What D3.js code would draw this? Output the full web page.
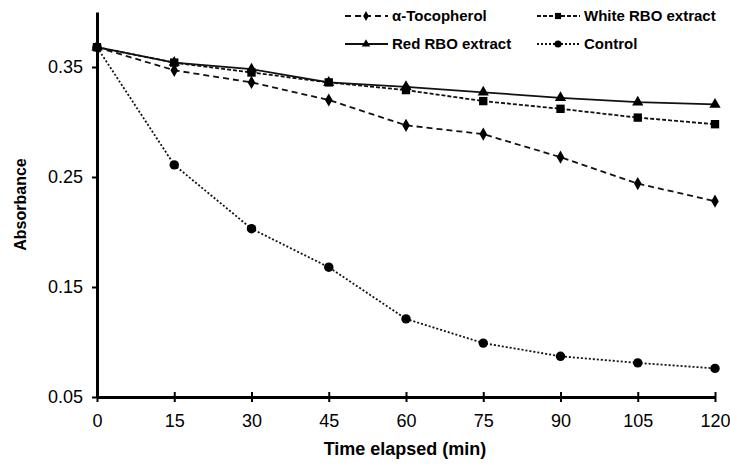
<!DOCTYPE html>
<html>
<head>
<meta charset="utf-8">
<script src="https://cdn.jsdelivr.net/npm/d3@7"></script>
<style>
  body { margin: 0; background: #fff; }
  text { font-family: "Liberation Sans", Arial, sans-serif; fill: #000; }
</style>
</head>
<body>
<svg id="chart" width="730" height="467"></svg>
<script>
const times = [0, 15, 30, 45, 60, 75, 90, 105, 120]
const tocopherol = [0.368, 0.347, 0.336, 0.320, 0.297, 0.289, 0.268, 0.244, 0.228]
const whiteRBO = [0.368, 0.354, 0.345, 0.336, 0.329, 0.319, 0.312, 0.304, 0.298]
const redRBO = [0.368, 0.354, 0.348, 0.336, 0.332, 0.327, 0.322, 0.318, 0.316]
const control = [0.368, 0.261, 0.203, 0.168, 0.121, 0.099, 0.087, 0.081, 0.076]
const yTicks = [0.05, 0.15, 0.25, 0.35]

const series = [
  { name: "α-Tocopherol", values: tocopherol, dash: "6,4", symbol: d3.symbolDiamond, size: 50 },
  { name: "White RBO extract", values: whiteRBO, dash: "4,2", symbol: d3.symbolSquare, size: 70 },
  { name: "Red RBO extract", values: redRBO, dash: null, symbol: d3.symbolTriangle, size: 55 },
  { name: "Control", values: control, dash: "2,2", symbol: d3.symbolCircle, size: 70 }
]

const svg = d3.select("#chart")
const margin = { left: 97, right: 15, top: 12, bottom: 70 }
const width = 730, height = 467

const x = d3.scaleLinear().domain([0, 120]).range([margin.left, width - margin.right])
const y = d3.scaleLinear().domain([0.05, 0.40]).range([height - margin.bottom, margin.top])

// axes
const xAxis = svg.append("g")
  .attr("transform", `translate(0,${y(0.05)})`)
  .call(d3.axisBottom(x).tickValues(times).tickSize(5).tickSizeOuter(0).tickPadding(12))
xAxis.select(".domain").attr("stroke-width", 3)
xAxis.selectAll(".tick line").attr("stroke-width", 2).attr("y1", -5)
xAxis.selectAll("text").style("font-size", "18px").attr("fill", "#222")

const yAxis = svg.append("g")
  .attr("transform", `translate(${x(0)},0)`)
  .call(d3.axisLeft(y).tickValues(yTicks).tickFormat(d3.format(".2f")).tickSize(5).tickSizeOuter(0).tickPadding(9))
yAxis.select(".domain").attr("stroke-width", 3)
yAxis.selectAll(".tick line").attr("stroke-width", 2)
yAxis.selectAll("text").style("font-size", "18px").attr("fill", "#222")

svg.append("text")
  .attr("x", 405).attr("y", 455)
  .attr("text-anchor", "middle")
  .style("font-size", "18px").style("font-weight", "bold")
  .text("Time elapsed (min)")

svg.append("text")
  .attr("transform", `translate(26,${(y(0.05) + y(0.40)) / 2}) rotate(-90)`)
  .attr("text-anchor", "middle")
  .style("font-size", "16px").style("font-weight", "bold")
  .text("Absorbance")

const line = d3.line().x((d, i) => x(times[i])).y(d => y(d))

series.forEach(s => {
  svg.append("path")
    .datum(s.values)
    .attr("d", line)
    .attr("fill", "none")
    .attr("stroke", "#111")
    .attr("stroke-width", 1.8)
    .attr("stroke-dasharray", s.dash)

  svg.selectAll(null)
    .data(s.values)
    .enter().append("path")
    .attr("d", d3.symbol().type(s.symbol).size(s.size))
    .attr("transform", (d, i) => `translate(${x(times[i])},${y(d)})`)
    .attr("fill", "#000")
})

// legend
const legendPos = [[345, 16], [537, 16], [345, 44], [537, 44]]
series.forEach((s, i) => {
  const g = svg.append("g").attr("transform", `translate(${legendPos[i][0]},${legendPos[i][1]})`)
  g.append("line").attr("x1", 0).attr("x2", 43).attr("y1", 0).attr("y2", 0)
    .attr("stroke", "#111").attr("stroke-width", 1.8).attr("stroke-dasharray", s.dash)
  g.append("path").attr("d", d3.symbol().type(s.symbol).size(s.size * 0.55))
    .attr("transform", "translate(21,0)").attr("fill", "#000")
  g.append("text").attr("x", 47).attr("y", 5)
    .style("font-size", "15px").style("font-weight", "bold")
    .text(s.name)
})
</script>
</body>
</html>
